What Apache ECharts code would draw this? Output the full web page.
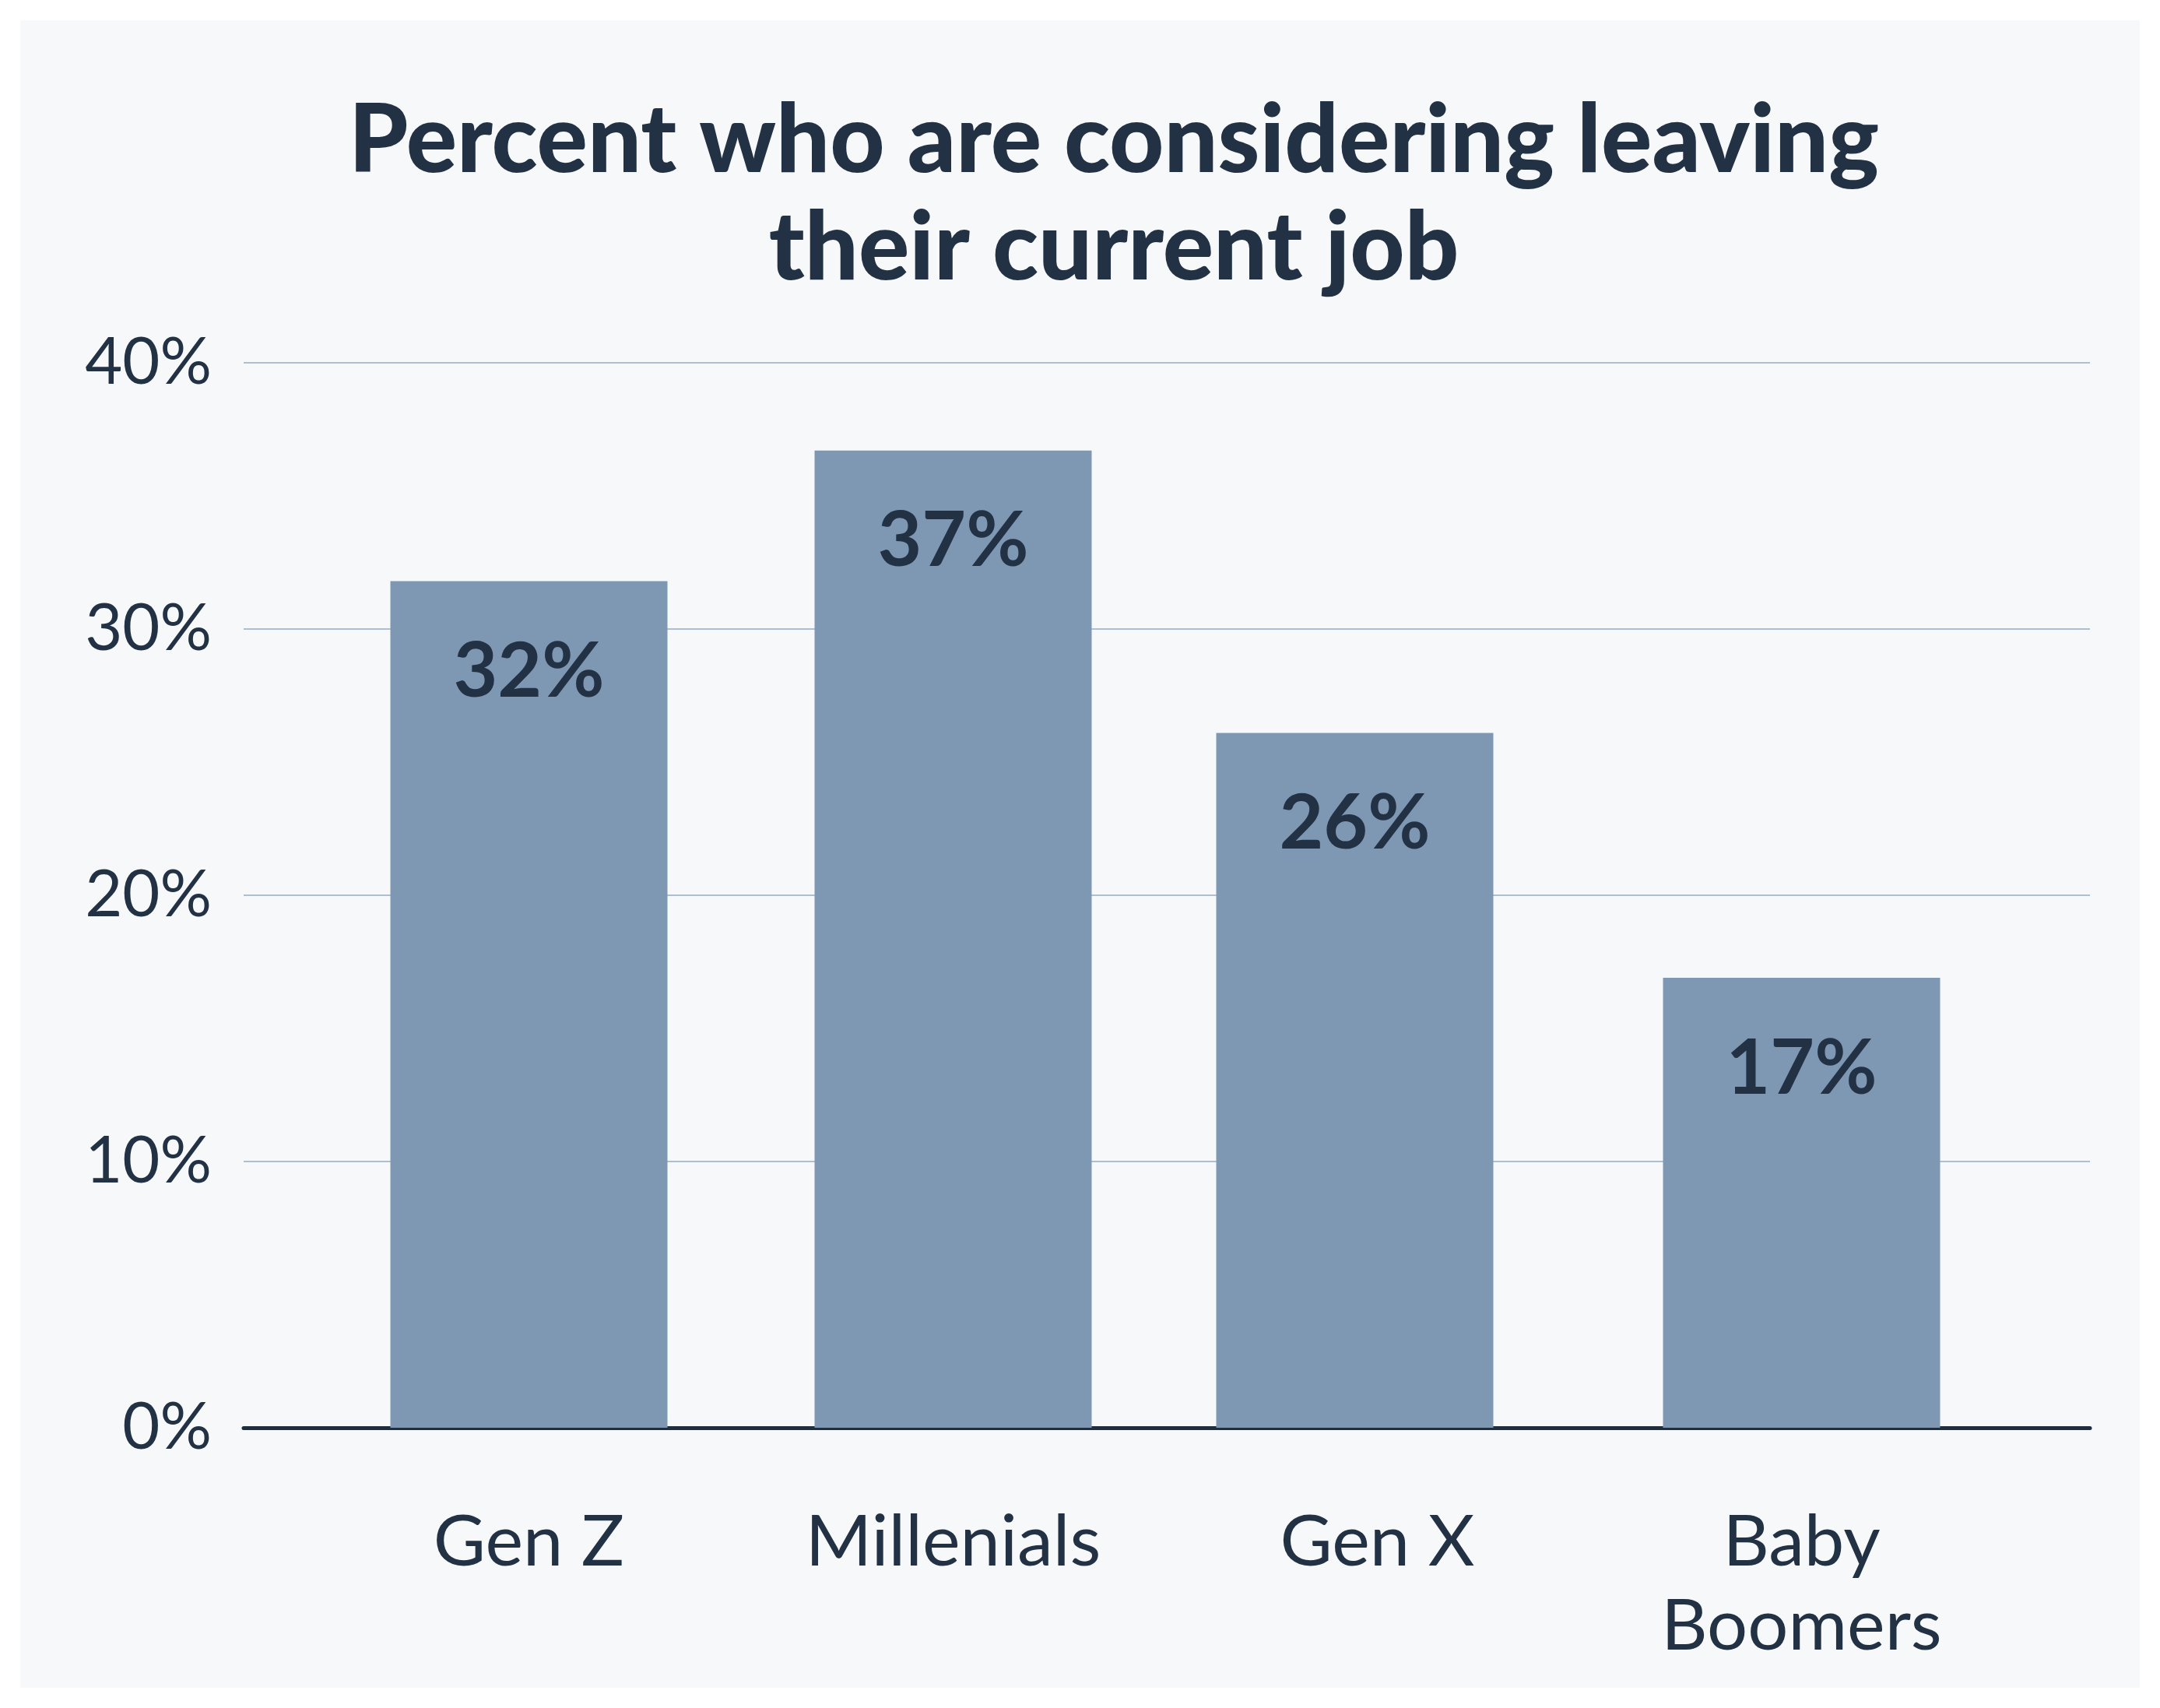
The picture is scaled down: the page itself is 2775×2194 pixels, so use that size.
<!DOCTYPE html>
<html>
<head>
<meta charset="utf-8">
<script src="https://cdn.jsdelivr.net/npm/echarts@6/dist/echarts.min.js"></script>
<style>
html,body{margin:0;padding:0;background:#ffffff;}
#chart{width:2775px;height:2194px;}
</style>
</head>
<body>
<div id="chart"></div>
<script>
const titleLines = ['Percent who are considering leaving', 'their current job'];
const categories = ['Gen Z', 'Millenials', 'Gen X', 'Baby\nBoomers'];
const shares = [31.8, 36.7, 26.1, 16.9];
// Gen X bar sits slightly left of its label in the original, so it is drawn on its own shifted axis
const shiftedCategory = 'Gen X';
const yMin = 0, yMax = 40, yStep = 10;

const ink = '#223244';
const barColor = '#7e98b4';
const font = 'Lato';

const mainShares = shares.map((v, i) => categories[i] === shiftedCategory ? null : v);
const shiftedShares = shares.map((v, i) => categories[i] === shiftedCategory ? v : null);

const barLabel = {show: true, position: 'insideTop', distance: 68,
  formatter: p => Math.round(p.value) + '%',
  fontFamily: font, fontWeight: 'bold', fontSize: 98, color: ink};

const chart = echarts.init(document.getElementById('chart'), null, {renderer: 'canvas'});
chart.setOption({
  backgroundColor: '#ffffff',
  animation: false,
  graphic: [{
    type: 'rect', z: -10, silent: true,
    shape: {x: 26, y: 26, width: 2723, height: 2142},
    style: {fill: '#f6f8fa'}
  }],
  title: {
    text: titleLines.join('\n'),
    left: 1426, top: 108, textAlign: 'center',
    textStyle: {fontFamily: font, fontWeight: 900, fontSize: 122, lineHeight: 138, color: ink}
  },
  grid: [
    {left: 313, right: 90, top: 466, bottom: 360},
    {left: 407, right: 188, top: 466, bottom: 360},
    {left: 378, right: 217, top: 466, bottom: 360}
  ],
  xAxis: [
    {gridIndex: 0, type: 'category', data: categories,
     axisLine: {show: true, lineStyle: {color: '#1f2d3d', width: 5}},
     axisTick: {show: false}, axisLabel: {show: false}, splitLine: {show: false}},
    {gridIndex: 1, type: 'category', data: categories,
     axisLine: {show: false}, axisTick: {show: false},
     axisLabel: {show: true, margin: 93, fontFamily: font, fontSize: 92, lineHeight: 108, color: ink, verticalAlign: 'top'}},
    {gridIndex: 2, type: 'category', data: categories, show: false}
  ],
  yAxis: [
    {gridIndex: 0, type: 'value', min: yMin, max: yMax, interval: yStep,
     axisLine: {show: false}, axisTick: {show: false},
     axisLabel: {show: true, margin: 41, fontFamily: font, fontSize: 83, color: ink,
                 formatter: v => v + '%', padding: [26, 0, 0, 0]},
     splitLine: {show: true, lineStyle: {color: '#adc0d1', width: 2}}},
    {gridIndex: 1, type: 'value', min: yMin, max: yMax, interval: yStep, show: false,
     splitLine: {show: false}},
    {gridIndex: 2, type: 'value', min: yMin, max: yMax, interval: yStep, show: false,
     splitLine: {show: false}}
  ],
  series: [{
    type: 'bar', xAxisIndex: 1, yAxisIndex: 1,
    data: mainShares, barWidth: 356, z: 3,
    itemStyle: {color: barColor}, label: barLabel
  }, {
    type: 'bar', xAxisIndex: 2, yAxisIndex: 2,
    data: shiftedShares, barWidth: 356, z: 3,
    itemStyle: {color: barColor}, label: barLabel
  }]
});
</script>
</body>
</html>
